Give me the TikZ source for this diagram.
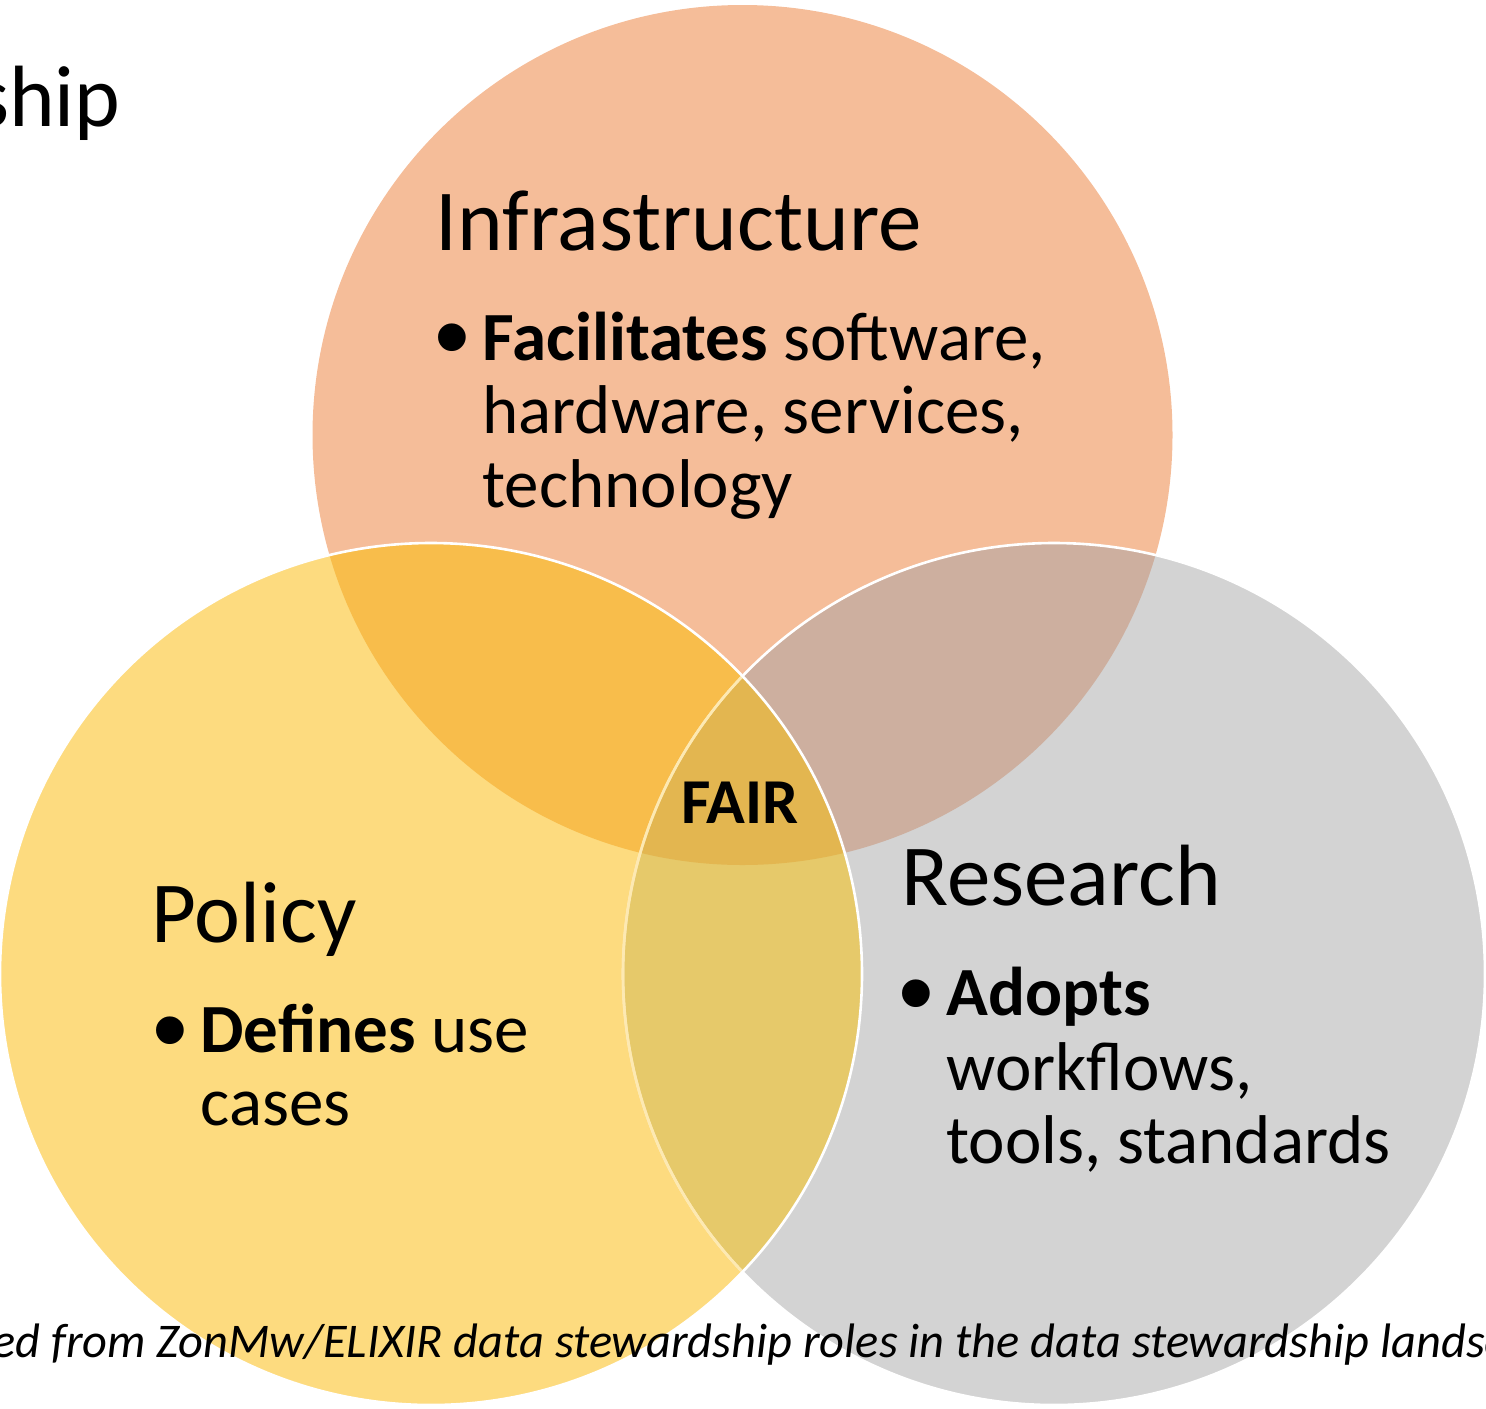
\documentclass[tikz,border=0pt]{standalone}
\usepackage{fontspec}
\setmainfont{Carlito}
\newfontfamily\bulletfont{Liberation Sans}
\definecolor{infraC}{HTML}{F5BD99}
\definecolor{policyC}{HTML}{FDDB7F}
\definecolor{researchC}{HTML}{D3D3D3}
\definecolor{ipC}{HTML}{F8BD4B}
\definecolor{irC}{HTML}{CDAF9F}
\definecolor{prC}{HTML}{E6C96A}
\definecolor{allC}{HTML}{E3B650}
\tikzset{
  title/.style={anchor=base west, inner sep=0pt, font=\fontsize{43.5}{46}\selectfont},
  body/.style={anchor=base west, inner sep=0pt, font=\fontsize{34.5}{37}\selectfont},
  bul/.style={anchor=base west, inner sep=0pt, font=\bulletfont\fontsize{51}{54}\selectfont},
  outline/.style={draw=white, line width=1.3pt}
}
\begin{document}
\begin{tikzpicture}[x=0.5pt, y=-0.5pt]
\useasboundingbox (0,0) rectangle (1486,1408);
\clip (0,0) rectangle (1486,1408);
\def\Icirc{(742.5,435) circle [radius=430]}
\def\Pcirc{(431,974) circle [radius=431]}
\def\Rcirc{(1054,974) circle [radius=431]}
% base fills
\fill[infraC] \Icirc;
\fill[policyC] \Pcirc;
\fill[researchC] \Rcirc;
% overlaps
\begin{scope}
  \clip \Icirc;
  \fill[ipC] \Pcirc;
  \fill[irC] \Rcirc;
\end{scope}
\begin{scope}
  \clip \Pcirc;
  \fill[prC] \Rcirc;
\end{scope}
\begin{scope}
  \clip \Icirc;
  \clip \Pcirc;
  \fill[allC] \Rcirc;
\end{scope}
% outlines
\draw[outline] \Rcirc;
\begin{scope}
  \clip \Pcirc;
  \draw[draw=policyC, line width=1.3pt, opacity=0.6] \Rcirc;
\end{scope}
\draw[outline] \Pcirc;
% texts
\node[title, anchor=base east] (ship) at (121,126) {ship};
\node[title] (infT) at (435,250) {Infrastructure};
\node[bul] (infB) at (434,371.5) {•};
\node[body] (inf1) at (482,360) {\textbf{Facilitates} software,};
\node[body] (inf2) at (482,433) {hardware, services,};
\node[body] (inf3) at (482,507) {technology};
\node[title] (polT) at (151,942) {Policy};
\node[bul] (polB) at (152,1064) {•};
\node[body] (pol1) at (200,1052) {\textbf{Defines} use};
\node[body] (pol2) at (200,1125) {cases};
\node[title] (resT) at (901,905) {Research};
\node[bul] (resB) at (898,1027) {•};
\node[body] (res1) at (946,1015) {\textbf{Adopts}};
\node[body] (res2) at (946,1090) {workflows,};
\node[body] (res3) at (946,1163) {tools, standards};
\node[anchor=base, inner sep=0pt, font=\fontsize{32}{34}\selectfont\bfseries] (fair) at (740,823) {FAIR};
\node[anchor=base west, inner sep=0pt, font=\fontsize{24.2}{26}\selectfont\itshape] (src) at (-8,1357) {ed from ZonMw/ELIXIR data stewardship roles in the data stewardship landsc};
\end{tikzpicture}
\end{document}
